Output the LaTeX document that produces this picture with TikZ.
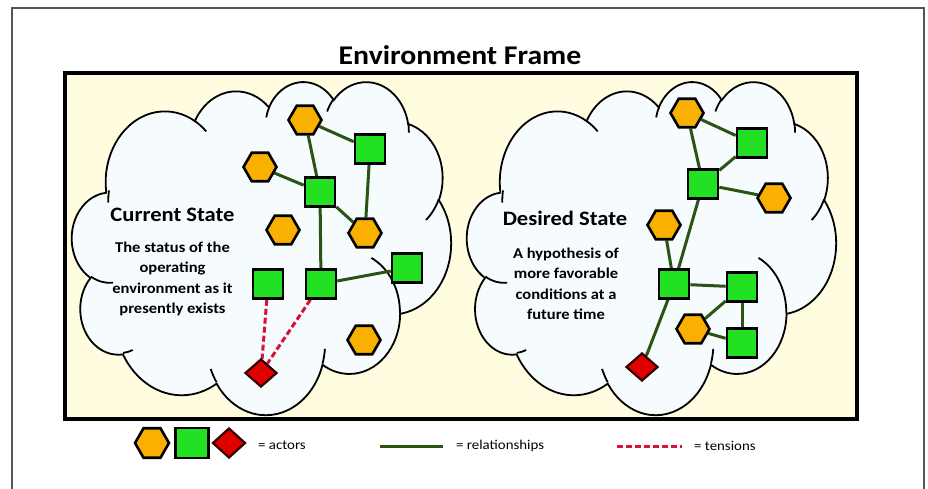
\documentclass[tikz,border=0pt]{standalone}
\usepackage{fontspec}
\setmainfont{Carlito}[FakeStretch=1.1]
\usetikzlibrary{shapes.geometric}

\definecolor{framefill}{HTML}{FFFCDF}
\definecolor{cloudfill}{HTML}{F6FBFD}
\definecolor{hexc}{HTML}{F9B000}
\definecolor{sqc}{HTML}{22E022}
\definecolor{diac}{HTML}{E00000}
\definecolor{relc}{HTML}{2A5414}
\definecolor{tenc}{HTML}{D8103A}
\definecolor{pagec}{HTML}{555555}

\pgfdeclarelayer{back}
\pgfdeclarelayer{links}
\pgfsetlayers{back,links,main}

\tikzset{
  hexa/.style={regular polygon, regular polygon sides=6, minimum size=33pt,
    inner sep=0pt, draw=black, line width=2.6pt, fill=hexc},
  sqbox/.style={rectangle, minimum width=30pt, minimum height=29pt,
    inner sep=0pt, draw=black, line width=2.6pt, fill=sqc},
  dia/.style={diamond, minimum width=32pt, minimum height=28pt,
    inner sep=0pt, draw=black!80!red, line width=2.2pt, fill=diac},
  rel/.style={draw=relc, line width=3pt},
  ten/.style={draw=tenc, line width=3pt, dash pattern=on 6pt off 3pt},
  cloudbody/.style={draw=black, line width=1.8pt, fill=cloudfill},
  cloudedge/.style={draw=black, line width=1.8pt},
  headtext/.style={font=\fontsize{20.5}{24}\selectfont\bfseries, inner sep=0pt},
  bodytext/.style={font=\fontsize{15}{20.5}\selectfont\bfseries, align=center, inner sep=0pt},
  legtext/.style={font=\fontsize{13.5}{15}\selectfont, inner sep=0pt, anchor=west},
}

% Cloud outline built from elliptic arcs (path units: 432 x 432 box)
% #1,#2: top-left corner, #3: width, #4: height
\newcommand\cloudshape[4]{%
  \pgfmathsetmacro\cloudX{#1}%
  \pgfmathsetmacro\cloudY{#2}%
  \pgfmathsetmacro\cloudSX{#3/432}%
  \pgfmathsetmacro\cloudSY{#4/432}%
  \path[cloudbody] ({\cloudX+39*\cloudSX},{\cloudY+143.7*\cloudSY})
    \foreach \rw/\rh/\st/\sw in {
      67.53/91.90/-190.48748/123.78053,
      53.33/72.67/-144.10238/89.94523,
      43.65/59.45/-145.80792/99.72302,
      48.57/65.95/-130.98607/117.24173,
      53.33/72.73/-78.70888/109.02692,
      67.75/92.20/-46.26725/130.269,
      57.85/78.67/0.62502/114.03333,
      67.52/92.15/22.4516/115.17255,
      77.20/105.43/66.24263/75.71102,
      43.60/59.18/-274.94208/146.73557,
      43.45/59.45/-246.8285/152.51885}
    { arc[start angle={atan2(\rw*sin(\st),\rh*cos(\st))},
          delta angle={mod(atan2(\rw*sin(\st+\sw),\rh*cos(\st+\sw))-atan2(\rw*sin(\st),\rh*cos(\st))+720,360)},
          x radius={\rw*\cloudSX}, y radius={\rh*\cloudSY}] }
    -- cycle;
  \foreach \mx/\my/\rw/\rh/\st/\sw in {
      46.93/261.77/43.45/59.45/86.742/26.4295,
      69.28/348.99/43.60/59.18/73.61047/11.44747,
      164.78/390.90/67.52/92.15/137.62415/14.0811,
      288.27/347.51/67.52/92.15/6.45327/15.99835,
      341.29/229.54/57.85/78.67/-70.29235/70.91737,
      417.98/153.54/53.33/72.73/30.31803/27.7515,
      383.24/54.26/48.57/65.95/-13.74433/14.8589,
      290.78/39.52/48.57/65.95/-149.18145/18.19537,
      221.41/47.20/43.65/59.45/-163.49427/17.68635,
      140.00/51.92/67.53/91.90/-66.70695/12.31935,
      41.27/157.89/67.53/91.90/-180.85042/13.45132}
    { \draw[cloudedge] ({\cloudX+\mx*\cloudSX},{\cloudY+\my*\cloudSY})
        arc[start angle={atan2(\rw*sin(\st),\rh*cos(\st))},
            delta angle={mod(atan2(\rw*sin(\st+\sw),\rh*cos(\st+\sw))-atan2(\rw*sin(\st),\rh*cos(\st))+720,360)},
            x radius={\rw*\cloudSX}, y radius={\rh*\cloudSY}]; }
}

\begin{document}
\begin{tikzpicture}[x=1pt,y=-1pt]
\useasboundingbox (0,0) rectangle (928,489);

\begin{pgfonlayer}{back}
  \fill[white] (0,0) rectangle (928,489);
  \draw[pagec, line width=1.3pt] (12,489) -- (12,8) -- (924,8) -- (924,489);
  \draw[black, line width=3.2pt, fill=framefill] (65,73) rectangle (857,419);
  \cloudshape{72}{81}{379}{333}
  \cloudshape{467}{81}{369}{333}
\end{pgfonlayer}

\node[font=\fontsize{27}{32}\selectfont\bfseries, inner sep=0pt] (title) at (460,55) {Environment Frame};

% current state
\node[headtext] (curHead) at (172.5,215) {Current State};
\node[bodytext] (curBody) at (172.5,279) {The status of the\\operating\\environment as it\\presently exists};

\node[hexa] (lHexA) at (305,120) {};
\node[sqbox] (lSqA) at (370,149) {};
\node[hexa] (lHexB) at (260,167) {};
\node[sqbox] (lSqB) at (320,192) {};
\node[hexa] (lHexC) at (283,230) {};
\node[hexa] (lHexD) at (365,233) {};
\node[sqbox] (lSqC) at (268,284) {};
\node[sqbox] (lSqD) at (321,284) {};
\node[sqbox] (lSqE) at (407,268) {};
\node[hexa] (lHexE) at (364,340) {};
\node[dia] (lDia) at (261,373) {};

% desired state
\node[headtext] (desHead) at (565,218) {Desired State};
\node[bodytext] (desBody) at (566,284) {A hypothesis of\\more favorable\\conditions at a\\future time};

\node[hexa] (rHexA) at (687,113) {};
\node[sqbox] (rSqA) at (752,143) {};
\node[sqbox] (rSqB) at (703,184) {};
\node[hexa] (rHexB) at (774,198) {};
\node[hexa] (rHexC) at (664,225) {};
\node[sqbox] (rSqC) at (674,284) {};
\node[sqbox] (rSqD) at (742,287) {};
\node[hexa] (rHexD) at (693,329) {};
\node[sqbox] (rSqE) at (742,343) {};
\node[dia] (rDia) at (642,367) {};

% legend
\node[hexa, minimum size=34pt] (legHex) at (152,443) {};
\node[sqbox, minimum width=33pt, minimum height=30pt] (legSq) at (192,443) {};
\node[dia, minimum width=33pt, minimum height=30pt] (legDia) at (229,443) {};
\node[legtext] (legActors) at (258,445) {= actors};
\coordinate (relA) at (380,446);
\coordinate (relB) at (443,446);
\node[legtext] (legRel) at (456,446) {= relationships};
\coordinate (tenA) at (617,446);
\coordinate (tenB) at (682,446);
\node[legtext] (legTen) at (694,446) {= tensions};

\begin{pgfonlayer}{links}
  \draw[rel] (lHexA) -- (lSqA);
  \draw[rel] (lHexA) -- (lSqB);
  \draw[rel] (lHexB) -- (lSqB);
  \draw[rel] (lSqB) -- (lHexD);
  \draw[rel] (lSqA) -- (lHexD);
  \draw[rel] (lSqB) -- (lSqD);
  \draw[rel] (lSqD) -- (lSqE);
  \draw[ten] (lSqC) -- (lDia);
  \draw[ten] (lSqD) -- (lDia);

  \draw[rel] (rHexA) -- (rSqA);
  \draw[rel] (rHexA) -- (rSqB);
  \draw[rel] (rSqA) -- (rSqB);
  \draw[rel] (rSqB) -- (rHexB);
  \draw[rel] (rSqB) -- (rSqC);
  \draw[rel] (rHexC) -- (rSqC);
  \draw[rel] (rSqC) -- (rSqD);
  \draw[rel] (rSqD) -- (rHexD);
  \draw[rel] (rSqD) -- (rSqE);
  \draw[rel] (rHexD) -- (rSqE);
  \draw[rel] (rSqC) -- (rDia);

  \draw[rel] (relA) -- (relB);
  \draw[ten] (tenA) -- (tenB);
\end{pgfonlayer}
\end{tikzpicture}
\end{document}
